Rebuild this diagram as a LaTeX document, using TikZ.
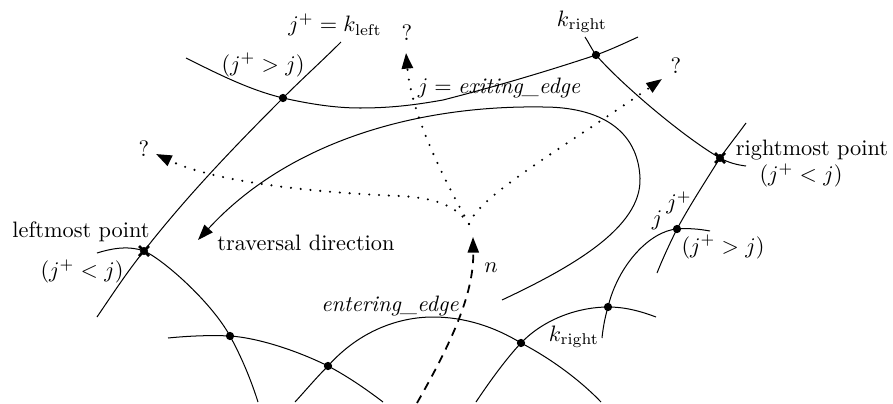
\documentclass[tikz,border=0pt]{standalone}
\usetikzlibrary{arrows.meta}
\begin{document}
\begin{tikzpicture}[x=0.448pt,y=-0.448pt,
  curve/.style={line width=0.45pt},
  dotnode/.style={circle,fill,inner sep=0pt,minimum size=3.7pt},
  xnode/.style={circle,fill,inner sep=0pt,minimum size=3.6pt},
  tip/.style={-{Triangle[length=7pt,width=5pt]}},
  dotarrow/.style={tip,line width=1.05pt,dash pattern=on 0pt off 4.4pt,line cap=round},
  dasharrow/.style={tip,line width=0.8pt,dash pattern=on 3.8pt off 3pt},
  lbl/.style={inner sep=0pt}]
\useasboundingbox (0,0) rectangle (893,403);

% points
\node[dotnode] (dA) at (283,98) {};
\node[dotnode] (dB) at (596,55) {};
\node[xnode] (xR) at (720,158) {};
\node[xnode] (xL) at (144,251) {};
\node[dotnode] (dC) at (677,229) {};
\node[dotnode] (dD) at (608,307) {};
\node[dotnode] (dE) at (521,343) {};
\node[dotnode] (dF) at (230,336) {};
\node[dotnode] (dG) at (328,366) {};
\coordinate (fork) at (469,224);

% crosses
\foreach \p in {xR,xL}{
  \draw[line width=1.2pt] ([shift={(-5,-5)}]\p.center) -- ([shift={(5,5)}]\p.center);
  \draw[line width=1.2pt] ([shift={(-5,5)}]\p.center) -- ([shift={(5,-5)}]\p.center);
}

% curves
\draw[curve] (341,42) .. controls (322,61) and (302,79) .. (dA.center)
  .. controls (235,146) and (186,197) .. (xL.center)
  .. controls (127,272) and (112,295) .. (97,317);
\draw[curve] (186,58) .. controls (220,75) and (250,90) .. (dA.center)
  .. controls (310,104) and (335,108) .. (360,108)
  .. controls (395,108) and (420,104) .. (443,100)
  .. controls (490,88) and (545,72) .. (dB.center)
  .. controls (610,50) and (625,43) .. (638,37);
\draw[curve] (585,37) .. controls (589,43) and (591,48) .. (dB.center)
  .. controls (622,85) and (685,138) .. (xR.center)
  .. controls (729,163) and (738,165) .. (746,166);
\draw[curve] (746,123) .. controls (738,134) and (727,148) .. (xR.center)
  .. controls (705,182) and (690,205) .. (dC.center)
  .. controls (670,243) and (663,258) .. (657,273);
\draw[curve] (710,231) .. controls (699,229) and (688,228) .. (dC.center)
  .. controls (650,231) and (618,265) .. (dD.center)
  .. controls (605,317) and (603,328) .. (602,338);
\draw[curve] (476,402) .. controls (488,384) and (505,360) .. (dE.center)
  .. controls (545,318) and (580,307) .. (dD.center)
  .. controls (625,307) and (640,311) .. (656,317);
\draw[curve] (295,402) .. controls (306,390) and (316,378) .. (dG.center)
  .. controls (360,330) and (400,317) .. (433,317)
  .. controls (465,317) and (495,327) .. (dE.center)
  .. controls (550,358) and (580,380) .. (601,402);
\draw[curve] (168,338) .. controls (188,336) and (210,335) .. (dF.center)
  .. controls (260,338) and (300,352) .. (dG.center)
  .. controls (347,376) and (366,389) .. (383,402);
\draw[curve] (97,253) .. controls (110,249) and (127,245) .. (xL.center)
  .. controls (161,258) and (210,300) .. (dF.center)
  .. controls (242,358) and (251,380) .. (258,402);

% traversal loop
\coordinate (loopStart) at (502,300);
\coordinate (loopEnd) at (198,240);
\draw[curve,tip] (loopStart) .. controls (570,268) and (642,228) .. (640,178)
  .. controls (638,130) and (600,107) .. (543,107)
  .. controls (420,105) and (290,140) .. (loopEnd);

% dashed arrow
\coordinate (dashStart) at (417,403);
\coordinate (dashEnd) at (473,237);
\draw[dasharrow] (dashStart) .. controls (450,345) and (474,295) .. (dashEnd);

% dotted arrows
\coordinate (qL) at (156,154);
\coordinate (qM) at (406,53);
\coordinate (qR) at (662,79);
\draw[dotarrow] (fork) .. controls (455,205) and (435,198) .. (400,196)
  .. controls (300,192) and (210,180) .. (qL);
\draw[dotarrow] (fork) .. controls (450,190) and (412,120) .. (qM);
\draw[dotarrow] (fork) .. controls (480,195) and (560,150) .. (qR);

% labels
\node[lbl] (t1) at (335,25) {$j^+ = k_{\mathrm{left}}$};
\node[lbl] (t2) at (263,65) {$(j^+ > j)$};
\node[lbl] (t3) at (499,88) {$j = \textit{exiting\_edge}$};
\node[lbl] (t4) at (582,22) {$k_{\mathrm{right}}$};
\node[lbl] (q1) at (407,33) {?};
\node[lbl] (q2) at (144,149) {?};
\node[lbl] (q3) at (676,66) {?};
\node[lbl] (t5) at (812,150) {rightmost point};
\node[lbl] (t6) at (801,175) {$(j^+ < j)$};
\node[lbl] (t7) at (81,232) {leftmost point};
\node[lbl] (t8) at (82,271) {$(j^+ < j)$};
\node[lbl] (t9) at (306,243) {traversal direction};
\node[lbl] (t10) at (491,268) {$n$};
\node[lbl] (t11) at (390,306) {\textit{entering\_edge}};
\node[lbl] (t12) at (574,337) {$k_{\mathrm{right}}$};
\node[lbl] (t13) at (657,220) {$j$};
\node[lbl] (t14) at (679,203) {$j^+$};
\node[lbl] (t15) at (723,247) {$(j^+ > j)$};
\end{tikzpicture}
\end{document}
